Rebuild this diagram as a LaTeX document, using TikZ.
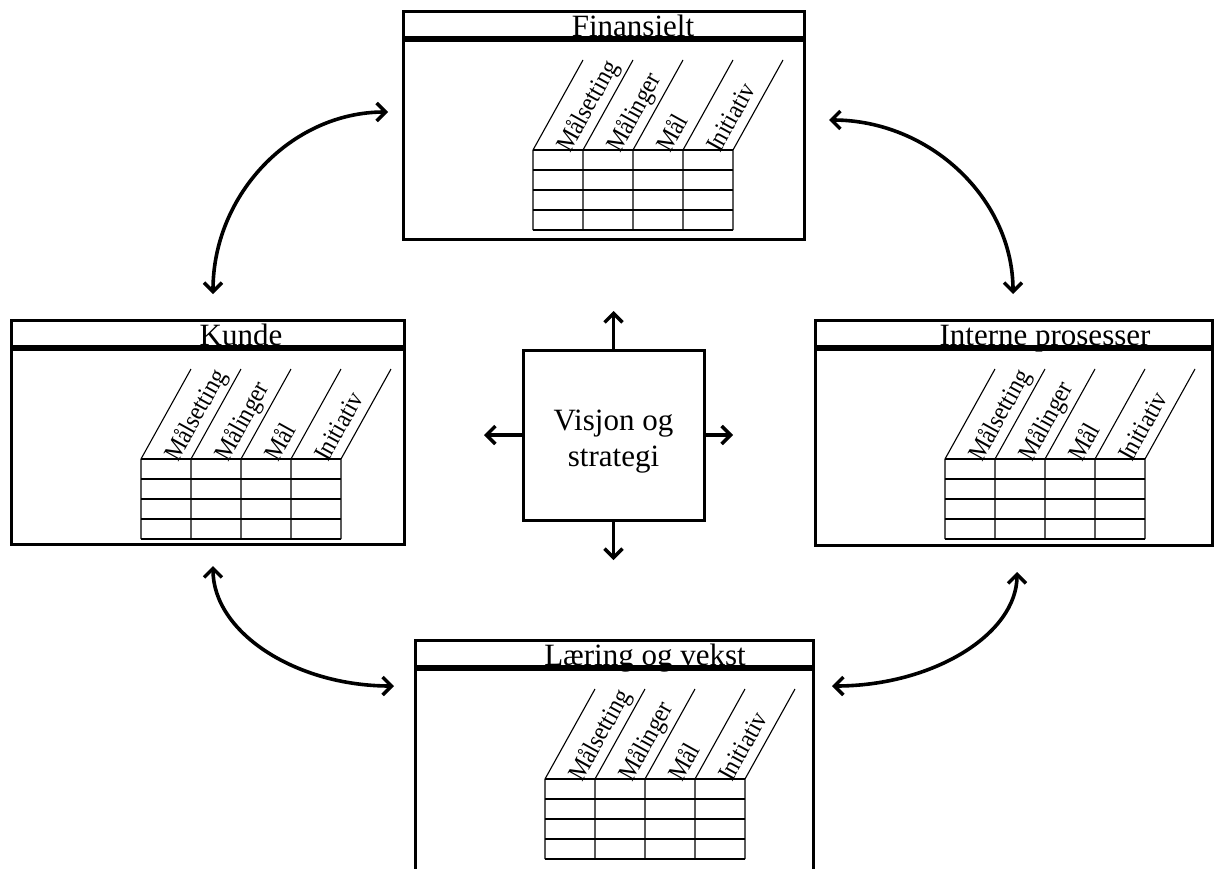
\documentclass[tikz,border=0pt]{standalone}
\usepackage{fontspec}
\setmainfont{Liberation Serif}
\usetikzlibrary{arrows.meta}

% One balanced-scorecard perspective: framed panel, header bar, title,
% slanted column headings and a 4x4 grid.
% #1 name, #2 left x, #3 top y, #4 width, #5 height, #6 title
\newcommand{\bscpanel}[6]{%
  \node[panel, minimum width=#4pt, minimum height=#5pt] (#1) at (#2,#3) {};
  \begin{scope}[shift={(#2,#3)}]
    \draw[headerline] (0,28) -- (#4,28);
    \node[titletext] (#1-title) at (230,25.5) {#6};
    \foreach \r in {0,...,4}
      \draw[gridline] (130,139+20*\r) -- (330,139+20*\r);
    \foreach \c in {0,...,4}
      \draw[gridline] (180+50*\c,49) -- (130+50*\c,139) -- (130+50*\c,219);
    \foreach \t [count=\i from 0] in {Målsetting,Målinger,Mål,Initiativ}
      \node[coltext] (#1-c\i) at (167+50*\i,143) {\t};
  \end{scope}}

\begin{document}
\begin{tikzpicture}[x=1pt,y=-1pt,
  panel/.style={draw, line width=3pt, inner sep=0pt, outer sep=0pt, anchor=north west},
  headerline/.style={line width=5.5pt},
  gridline/.style={line width=1.1pt},
  titletext/.style={font=\fontsize{31}{36}\selectfont, inner sep=0pt, anchor=base},
  coltext/.style={font=\fontsize{26}{30}\selectfont, inner sep=0pt, anchor=base west,
    rotate=60.95, xscale=0.9},
  barb/.tip={Straight Barb[length=9pt,width=18pt,line width=3.4pt]},
  link/.style={line width=3.6pt, barb-barb},
  ray/.style={line width=3.4pt, -barb},
  centerbox/.style={draw, line width=3pt, minimum width=181pt, minimum height=170pt, inner sep=0pt},
  centertext/.style={align=center, inner sep=0pt, font=\fontsize{31}{36}\selectfont}
]
\useasboundingbox (0,0) rectangle (1215,868);
\begin{scope}
\clip (0,0) rectangle (1215,868);

% the four perspectives
\bscpanel{fin}{403}{11}{401}{228}{Finansielt}
\bscpanel{kun}{11}{320}{393}{224}{Kunde}
\bscpanel{int}{815}{320}{397}{225}{Interne prosesser}
\bscpanel{lae}{415}{640}{398}{260}{Læring og vekst}

% vision and strategy in the middle
\node[centerbox] (vis) at (613.5,435) {};
\node[centertext] (vis-text) at (613.5,442) {Visjon og\\strategi};
\coordinate (vis-up) at (613.5,311);
\coordinate (vis-down) at (613.5,560);
\coordinate (vis-left) at (484,435);
\coordinate (vis-right) at (733,435);
\draw[ray] (vis.north) -- (vis-up);
\draw[ray] (vis.south) -- (vis-down);
\draw[ray] (vis.west) -- (vis-left);
\draw[ray] (vis.east) -- (vis-right);

% curved two-way links between neighbouring perspectives
\coordinate (kun-top) at (213,294);
\coordinate (fin-left) at (388,112);
\coordinate (fin-right) at (829,120);
\coordinate (int-top) at (1013,294);
\coordinate (kun-bottom) at (213,566);
\coordinate (lae-left) at (394,686);
\coordinate (int-bottom) at (1017,572);
\coordinate (lae-right) at (832,686);
\draw[link] (kun-top) .. controls +(0,-100) and +(-96,0) .. (fin-left);
\draw[link] (fin-right) .. controls +(101,0) and +(0,-95) .. (int-top);
\draw[link] (kun-bottom) .. controls +(0,66) and +(-99,0) .. (lae-left);
\draw[link] (int-bottom) .. controls +(0,62) and +(101,0) .. (lae-right);
\end{scope}
\end{tikzpicture}
\end{document}
